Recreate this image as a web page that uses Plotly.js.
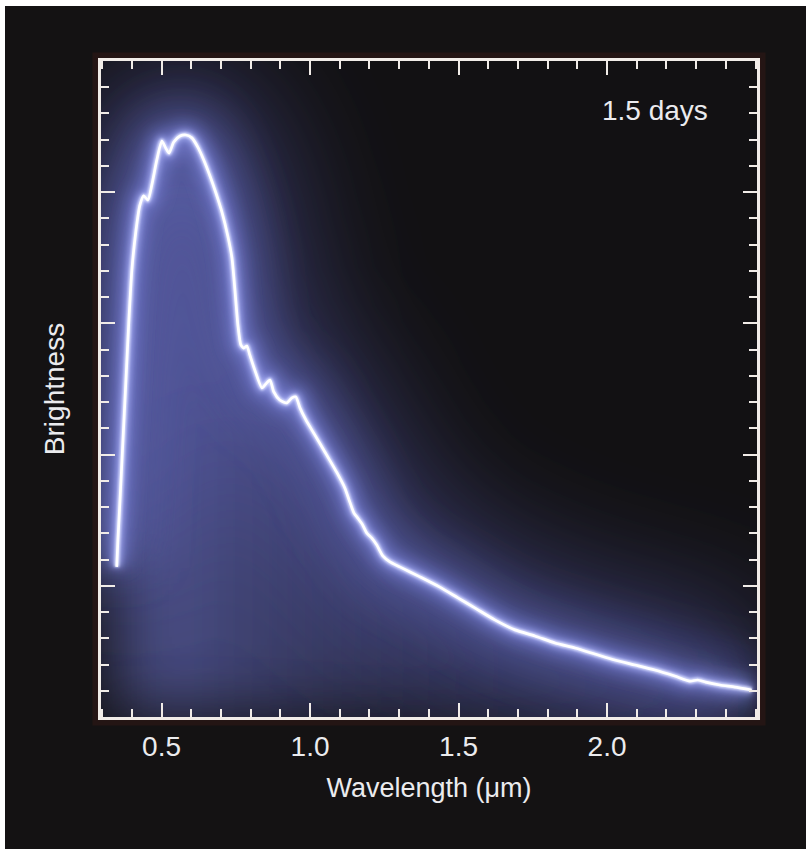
<!DOCTYPE html>
<html>
<head>
<meta charset="utf-8">
<script src="https://cdn.plot.ly/plotly-3.0.1.min.js"></script>
<style>
  html, body { margin: 0; padding: 0; background: #ffffff; width: 810px; height: 851px; overflow: hidden; }
  #chart { position: absolute; left: 5px; top: 6px; width: 801px; height: 843px; }
  #chart .scatterlayer .trace:nth-child(1) { filter: url(#blurHaze); }
  #chart .scatterlayer .trace:nth-child(2) { filter: url(#blurHuge); }
  #chart .scatterlayer .trace:nth-child(3) { filter: url(#blurWide); }
  #chart .scatterlayer .trace:nth-child(4) { filter: url(#blurMid); }
  #chart .scatterlayer .trace:nth-child(5) { filter: url(#blurSmall); }
  #chart .scatterlayer .trace:nth-child(6) { filter: url(#blurTiny); }
</style>
</head>
<body>
<svg width="0" height="0" style="position:absolute">
  <defs>
    <filter id="blurHaze" filterUnits="userSpaceOnUse" x="-200" y="-200" width="1200" height="1200"><feGaussianBlur stdDeviation="34"/></filter>
    <filter id="blurHuge" filterUnits="userSpaceOnUse" x="-200" y="-200" width="1200" height="1200"><feGaussianBlur stdDeviation="55"/></filter>
    <filter id="blurWide" filterUnits="userSpaceOnUse" x="-200" y="-200" width="1200" height="1200"><feGaussianBlur stdDeviation="24"/></filter>
    <filter id="blurMid" filterUnits="userSpaceOnUse" x="-200" y="-200" width="1200" height="1200"><feGaussianBlur stdDeviation="8"/></filter>
    <filter id="blurSmall" filterUnits="userSpaceOnUse" x="-200" y="-200" width="1200" height="1200"><feGaussianBlur stdDeviation="3"/></filter>
    <filter id="blurTiny" filterUnits="userSpaceOnUse" x="-200" y="-200" width="1200" height="1200"><feGaussianBlur stdDeviation="1.1"/></filter>
  </defs>
</svg>
<div id="chart"></div>
<script>
// Spectrum (wavelength in micrometres, brightness in arbitrary units)
const wavelength = [0.349,0.353,0.360,0.370,0.380,0.390,0.400,0.414,0.427,0.440,0.454,0.467,0.484,0.501,0.514,0.525,0.541,0.562,0.582,0.602,0.622,0.642,0.663,0.683,0.703,0.723,0.737,0.747,0.757,0.767,0.777,0.787,0.797,0.814,0.838,0.851,0.865,0.878,0.898,0.922,0.939,0.952,0.966,0.986,1.016,1.050,1.091,1.117,1.134,1.148,1.161,1.175,1.191,1.208,1.225,1.245,1.269,1.302,1.370,1.437,1.498,1.556,1.622,1.690,1.757,1.825,1.892,1.959,2.026,2.094,2.161,2.228,2.279,2.305,2.332,2.380,2.430,2.487];
const brightness = [5.72,6.75,8.27,10.56,12.84,15.13,17.04,18.56,19.51,19.86,19.70,20.27,21.23,21.95,21.68,21.49,21.91,22.14,22.18,22.07,21.72,21.23,20.62,19.97,19.25,18.33,17.49,16.27,14.94,14.18,14.06,14.14,13.80,13.22,12.54,12.69,12.84,12.39,12.08,11.97,12.16,12.20,11.78,11.32,10.75,10.10,9.30,8.73,8.19,7.77,7.58,7.36,7.01,6.82,6.55,6.14,5.91,5.72,5.34,4.95,4.54,4.15,3.70,3.32,3.09,2.82,2.63,2.40,2.17,1.98,1.79,1.56,1.37,1.41,1.33,1.22,1.14,1.03];

const xTickVals = [0.5, 1.0, 1.5, 2.0];
const xTickText = ['0.5', '1.0', '1.5', '2.0'];
const xTitle = 'Wavelength (μm)';
const yTitle = 'Brightness';
const label = '1.5 days';

const frameColor = '#f1ece8';
const textColor = '#ebebee';
const font = 'Liberation Sans, Arial, Helvetica, sans-serif';

const traces = [];
// haze under the curve
traces.push({
  x: wavelength, y: brightness, type: 'scatter', mode: 'lines',
  line: {width: 0, shape: 'spline'}, fill: 'tozeroy',
  fillgradient: {type: 'horizontal', start: 0.3, stop: 2.5,
    colorscale: [[0, 'rgba(92,98,170,0.85)'], [0.3, 'rgba(80,85,150,0.6)'], [0.6, 'rgba(55,60,105,0.45)'], [1, 'rgba(40,44,78,0.4)']]},
  hoverinfo: 'skip', showlegend: false
});
// glow layers (blurred via CSS filters)
const glow = [
  {w: 150, c: 'rgba(90,96,180,0.45)'},
  {w: 60, c: 'rgba(105,112,200,0.45)'},
  {w: 22, c: 'rgba(130,138,230,0.6)'},
  {w: 9, c: 'rgba(178,185,255,0.75)'},
  {w: 5, c: 'rgba(222,226,255,0.9)'},
  {w: 2.7, c: '#ffffff'}
];
glow.forEach(g => traces.push({
  x: wavelength, y: brightness, type: 'scatter', mode: 'lines',
  line: {width: g.w, color: g.c, shape: 'spline', smoothing: 0.6},
  hoverinfo: 'skip', showlegend: false
}));

const axisCommon = {
  showline: true, linecolor: frameColor, linewidth: 3, mirror: 'ticks',
  ticks: 'inside', tickcolor: frameColor, tickwidth: 2,
  showgrid: false, zeroline: false, fixedrange: true
};

const layout = {
  width: 801, height: 843,
  margin: {l: 96, r: 49, t: 55, b: 132},
  paper_bgcolor: '#141213',
  plot_bgcolor: '#121113',
  font: {family: font, color: textColor, size: 28},
  xaxis: Object.assign({}, axisCommon, {
    range: [0.296, 2.505], tickmode: 'array', tickvals: xTickVals, ticktext: xTickText,
    ticklen: 14, ticklabelstandoff: 2,
    tickfont: {family: font, size: 28, color: textColor},
    minor: {dtick: 0.1, tick0: 0, ticks: 'inside', ticklen: 8, tickcolor: frameColor, tickwidth: 2, showgrid: false},
    title: {text: xTitle, standoff: 18, font: {family: font, size: 27, color: textColor}}
  }),
  yaxis: Object.assign({}, axisCommon, {
    range: [0, 25], tickmode: 'linear', tick0: 0, dtick: 5, ticklen: 14, showticklabels: false,
    minor: {dtick: 1, tick0: 0, ticks: 'inside', ticklen: 8, tickcolor: frameColor, tickwidth: 2, showgrid: false},
    title: {text: yTitle, standoff: 26, font: {family: font, size: 28, color: textColor}}
  }),
  shapes: [
    {type: 'rect', xref: 'paper', yref: 'paper', x0: -0.007, x1: 1.007, y0: -0.007, y1: 1.007,
     line: {color: 'rgba(110,40,30,0.18)', width: 8}, layer: 'below'},
    {type: 'rect', xref: 'paper', yref: 'paper', x0: -0.0035, x1: 1.0035, y0: -0.0035, y1: 1.0035,
     line: {color: '#8a1818', width: 1.5}, layer: 'below'}
  ],
  annotations: [
    {text: label, xref: 'paper', yref: 'paper', x: 0.845, y: 0.925, xanchor: 'center', yanchor: 'middle',
     showarrow: false, font: {family: font, size: 28, color: textColor}}
  ],
  showlegend: false
};

Plotly.newPlot('chart', traces, layout, {displayModeBar: false, staticPlot: true});
</script>
</body>
</html>
